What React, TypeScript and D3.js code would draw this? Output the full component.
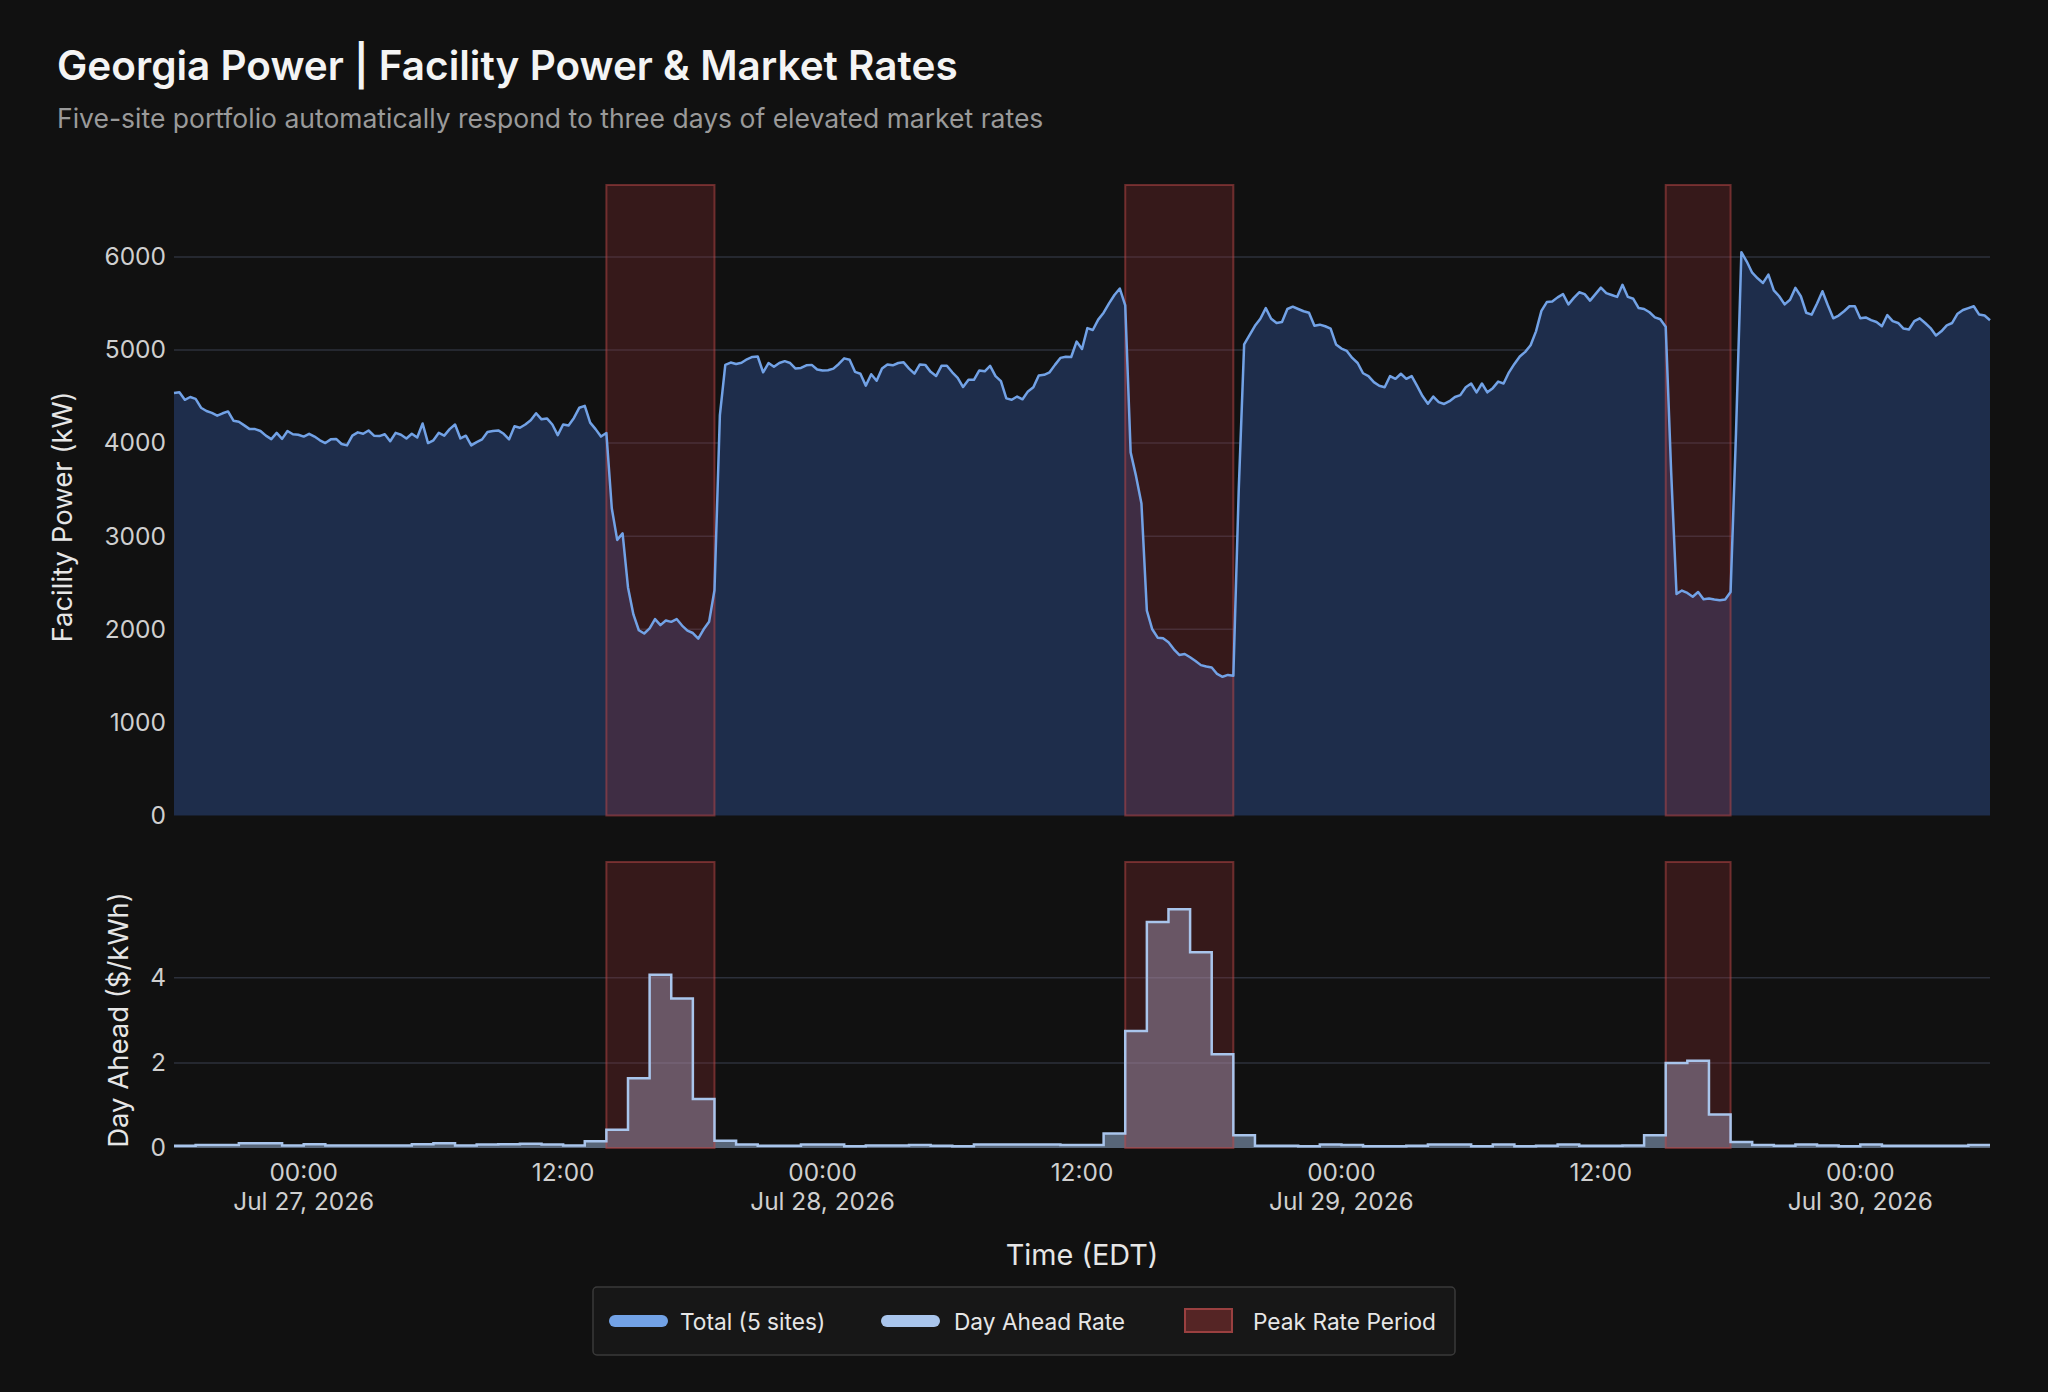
import React, { useEffect, useRef } from 'react';
import * as d3 from 'd3';

// facility power, 15-minute readings starting at powerStart
const powerStart = '2026-07-26T18:00';
const powerStepMin = 15;
const powerKw = [
  4538, 4545, 4465, 4495, 4475, 4380, 4345, 4325, 4294, 4320,
  4340, 4240, 4230, 4190, 4150, 4150, 4130, 4080, 4043, 4110,
  4045, 4130, 4095, 4090, 4070, 4100, 4070, 4030, 4000, 4040,
  4045, 3990, 3975, 4080, 4115, 4100, 4135, 4080, 4075, 4095,
  4020, 4110, 4090, 4050, 4100, 4060, 4210, 4000, 4030, 4110,
  4080, 4150, 4200, 4050, 4079, 3975, 4010, 4040, 4120, 4130,
  4136, 4100, 4040, 4180, 4165, 4200, 4245, 4320, 4255, 4265,
  4200, 4085, 4200, 4190, 4270, 4380, 4400, 4220, 4150, 4070,
  4108, 3300, 2960, 3030, 2450, 2160, 1990, 1955, 2010, 2110,
  2045, 2095, 2080, 2110, 2040, 1985, 1960, 1900, 2000, 2080,
  2420, 4300, 4840, 4865, 4850, 4862, 4900, 4925, 4930, 4760,
  4860, 4820, 4860, 4880, 4860, 4800, 4807, 4835, 4840, 4790,
  4780, 4782, 4800, 4850, 4910, 4896, 4765, 4745, 4617, 4740,
  4670, 4800, 4845, 4835, 4860, 4867, 4800, 4746, 4845, 4840,
  4765, 4720, 4830, 4830, 4760, 4700, 4602, 4680, 4680, 4780,
  4771, 4830, 4720, 4665, 4480, 4465, 4500, 4470, 4555, 4600,
  4725, 4733, 4760, 4840, 4915, 4928, 4925, 5090, 5011, 5235,
  5215, 5326, 5400, 5500, 5590, 5660, 5480, 3900, 3645, 3350,
  2200, 2000, 1910, 1903, 1860, 1785, 1725, 1735, 1700, 1660,
  1615, 1600, 1590, 1520, 1490, 1510, 1500, 3500, 5060, 5160,
  5260, 5335, 5450, 5335, 5290, 5300, 5440, 5465, 5440, 5416,
  5400, 5260, 5272, 5255, 5230, 5060, 5015, 4990, 4915, 4860,
  4750, 4720, 4655, 4615, 4600, 4720, 4690, 4745, 4690, 4720,
  4615, 4505, 4423, 4500, 4440, 4420, 4450, 4495, 4515, 4600,
  4640, 4545, 4640, 4545, 4590, 4660, 4640, 4760, 4850, 4930,
  4980, 5050, 5200, 5420, 5515, 5520, 5565, 5600, 5490, 5560,
  5620, 5600, 5530, 5600, 5670, 5610, 5590, 5570, 5700, 5570,
  5550, 5450, 5440, 5405, 5350, 5330, 5250, 3700, 2380, 2416,
  2390, 2350, 2400, 2323, 2330, 2320, 2312, 2320, 2400, 4100,
  6050, 5950, 5830, 5770, 5720, 5810, 5640, 5577, 5490, 5540,
  5667, 5577, 5400, 5380, 5500, 5631, 5480, 5340, 5370, 5416,
  5470, 5470, 5340, 5350, 5320, 5300, 5255, 5375, 5310, 5290,
  5230, 5220, 5310, 5340, 5290, 5235, 5155, 5200, 5265, 5290,
  5390, 5430, 5450, 5470, 5380, 5370, 5320,
];

// day ahead rate, hourly from rateStart
const rateStart = '2026-07-26T18:00';
const rateUsdKwh = [
  0.05, 0.07, 0.07, 0.11, 0.11, 0.06, 0.09, 0.06, 0.06, 0.06,
  0.06, 0.09, 0.11, 0.06, 0.08, 0.09, 0.10, 0.08, 0.06, 0.16,
  0.43, 1.64, 4.07, 3.51, 1.15, 0.17, 0.08, 0.055, 0.05, 0.08,
  0.08, 0.04, 0.06, 0.06, 0.07, 0.05, 0.04, 0.08, 0.08, 0.08,
  0.085, 0.07, 0.07, 0.34, 2.75, 5.31, 5.61, 4.6, 2.2, 0.3,
  0.055, 0.055, 0.04, 0.08, 0.07, 0.04, 0.04, 0.055, 0.08, 0.08,
  0.04, 0.08, 0.04, 0.055, 0.085, 0.05, 0.05, 0.06, 0.3, 2.0,
  2.05, 0.79, 0.14, 0.07, 0.05, 0.08, 0.06, 0.04, 0.08, 0.05,
  0.055, 0.055, 0.055, 0.07,
];

const peakPeriods = [
  ['2026-07-27T14:00', '2026-07-27T19:00'],
  ['2026-07-28T14:00', '2026-07-28T19:00'],
  ['2026-07-29T15:00', '2026-07-29T18:00'],
];

const xDomain = ['2026-07-26T18:00', '2026-07-30T06:00'];
const powerTicks = [0, 1000, 2000, 3000, 4000, 5000, 6000];
const rateTicks = [0, 2, 4];
const legendLabels = ['Total (5 sites)', 'Day Ahead Rate', 'Peak Rate Period'];

const W = 2048;
const H = 1392;
const FONT = 'Inter, "Noto Sans", sans-serif';
const BG = '#111111';
const GRID = '#2c303b';
const TICK = '#cfcfcf';
const POWER_LINE = '#72a2e6';
const POWER_FILL = '#1e2d4b';
const RATE_LINE = '#a9c5ec';
const RATE_FILL = 'rgba(168,196,236,0.48)';
const BAND_FILL = 'rgba(150,48,50,0.28)';
const BAND_STROKE = 'rgba(190,72,72,0.5)';

const App: React.FC = () => {
  const ref = useRef<SVGSVGElement>(null);

  useEffect(() => {
    document.body.style.margin = '0';
    document.body.style.background = BG;

    const svg = d3.select(ref.current);
    svg.selectAll('*').remove();
    svg.append('rect').attr('width', W).attr('height', H).attr('fill', BG);

    const left = 174;
    const right = 1990;
    const top1 = 185, bot1 = 815.5; // power panel
    const top2 = 862, bot2 = 1148; // rate panel

    const x = d3.scaleTime()
      .domain(xDomain.map(s => new Date(s)))
      .range([left, right]);
    const yP = d3.scaleLinear().domain([0, 6772]).range([bot1, top1]);
    const yR = d3.scaleLinear().domain([0, 6.72]).range([bot2, top2]);

    const t0 = new Date(powerStart).getTime();
    const power = powerKw.map((v, i) => ({ t: new Date(t0 + i * powerStepMin * 60000), v }));
    const r0 = new Date(rateStart).getTime();
    const rate = rateUsdKwh.map((v, i) => ({ t: new Date(r0 + i * 3600000), v }));
    rate.push({ t: new Date(r0 + rateUsdKwh.length * 3600000), v: rateUsdKwh[rateUsdKwh.length - 1] });

    // titles
    svg.append('text').attr('x', 57).attr('y', 80)
      .attr('font-family', FONT).attr('font-size', 40.5).attr('font-weight', 600)
      .attr('fill', '#f4f4f4')
      .text('Georgia Power | Facility Power & Market Rates');
    svg.append('text').attr('x', 57).attr('y', 128)
      .attr('font-family', FONT).attr('font-size', 26.5)
      .attr('fill', '#9a9a9a')
      .text('Five-site portfolio automatically respond to three days of elevated market rates');

    // gridlines
    const grid = svg.append('g');
    powerTicks.filter(d => d > 0).forEach(d => {
      grid.append('line').attr('x1', left).attr('x2', right)
        .attr('y1', yP(d)).attr('y2', yP(d))
        .attr('stroke', GRID).attr('stroke-width', 1.5);
    });
    rateTicks.filter(d => d > 0).forEach(d => {
      grid.append('line').attr('x1', left).attr('x2', right)
        .attr('y1', yR(d)).attr('y2', yR(d))
        .attr('stroke', GRID).attr('stroke-width', 1.5);
    });

    // power area
    const area = d3.area<{ t: Date; v: number }>()
      .x(d => x(d.t)).y0(yP(0)).y1(d => yP(d.v));
    svg.append('path').datum(power).attr('d', area).attr('fill', POWER_FILL);

    // rate area (step)
    const rArea = d3.area<{ t: Date; v: number }>()
      .x(d => x(d.t)).y0(yR(0)).y1(d => yR(d.v)).curve(d3.curveStepAfter);
    svg.append('path').datum(rate).attr('d', rArea).attr('fill', RATE_FILL);

    // peak bands on both panels
    const bands = svg.append('g');
    peakPeriods.forEach(([a, b]) => {
      const x0 = x(new Date(a));
      const x1 = x(new Date(b));
      [[top1, bot1], [top2, bot2]].forEach(([yt, yb]) => {
        bands.append('rect')
          .attr('x', x0).attr('y', yt)
          .attr('width', x1 - x0).attr('height', yb - yt)
          .attr('fill', BAND_FILL)
          .attr('stroke', BAND_STROKE).attr('stroke-width', 2);
      });
    });

    // lines
    const line = d3.line<{ t: Date; v: number }>().x(d => x(d.t)).y(d => yP(d.v));
    svg.append('path').datum(power).attr('d', line)
      .attr('fill', 'none').attr('stroke', POWER_LINE).attr('stroke-width', 2.5)
      .attr('stroke-linejoin', 'round');
    const rLine = d3.line<{ t: Date; v: number }>()
      .x(d => x(d.t)).y(d => yR(d.v)).curve(d3.curveStepAfter);
    svg.append('path').datum(rate).attr('d', rLine)
      .attr('fill', 'none').attr('stroke', RATE_LINE).attr('stroke-width', 2.5);

    // y axes
    const yAxisP = svg.append('g').attr('transform', `translate(${left - 8},0)`)
      .call(d3.axisLeft(yP).tickValues(powerTicks).tickFormat(d3.format('d')).tickSize(0));
    const yAxisR = svg.append('g').attr('transform', `translate(${left - 8},0)`)
      .call(d3.axisLeft(yR).tickValues(rateTicks).tickFormat(d3.format('d')).tickSize(0));
    [yAxisP, yAxisR].forEach(g => {
      g.select('.domain').remove();
      g.selectAll('text').attr('font-family', FONT).attr('font-size', 24.5)
        .attr('fill', TICK).attr('x', 0);
    });

    // x axis ticks
    const xTicks = d3.timeHour.every(12)!.range(x.domain()[0], x.domain()[1]);
    const fmtH = d3.timeFormat('%H:%M');
    const fmtD = d3.timeFormat('%b %-d, %Y');
    const xAxis = svg.append('g');
    xTicks.forEach(d => {
      xAxis.append('text').attr('x', x(d)).attr('y', 1181)
        .attr('text-anchor', 'middle').attr('font-family', FONT)
        .attr('font-size', 24.4).attr('fill', TICK)
        .text(fmtH(d));
      if (d.getHours() === 0) {
        xAxis.append('text').attr('x', x(d)).attr('y', 1210)
          .attr('text-anchor', 'middle').attr('font-family', FONT)
          .attr('font-size', 24.4).attr('fill', TICK)
          .text(fmtD(d));
      }
    });

    // axis titles
    svg.append('text').attr('x', (left + right) / 2).attr('y', 1265)
      .attr('text-anchor', 'middle').attr('font-family', FONT).attr('font-size', 28.8)
      .attr('fill', '#e6e6e6').text('Time (EDT)');
    svg.append('text')
      .attr('transform', 'translate(62,517) rotate(-90)')
      .attr('text-anchor', 'middle').attr('dominant-baseline', 'central')
      .attr('font-family', FONT).attr('font-size', 27.5).attr('fill', '#e6e6e6')
      .text('Facility Power (kW)');
    svg.append('text')
      .attr('transform', 'translate(118,1020) rotate(-90)')
      .attr('text-anchor', 'middle').attr('dominant-baseline', 'central')
      .attr('font-family', FONT).attr('font-size', 27.5).attr('fill', '#e6e6e6')
      .text('Day Ahead ($/kWh)');

    // legend
    const lg = svg.append('g');
    lg.append('rect').attr('x', 593).attr('y', 1287).attr('width', 862).attr('height', 68)
      .attr('rx', 4).attr('fill', '#171717').attr('stroke', '#3a3a3a').attr('stroke-width', 1.5);
    const ly = 1321;
    const swatchX = [609, 881];
    [POWER_LINE, RATE_LINE].forEach((c, i) => {
      lg.append('line').attr('x1', swatchX[i] + 6).attr('x2', swatchX[i] + 53)
        .attr('y1', ly).attr('y2', ly)
        .attr('stroke', c).attr('stroke-width', 12).attr('stroke-linecap', 'round');
    });
    lg.append('rect').attr('x', 1185).attr('y', 1309).attr('width', 47).attr('height', 23)
      .attr('fill', '#552525').attr('stroke', '#9a4040').attr('stroke-width', 2);
    const textX = [680, 954, 1253];
    legendLabels.forEach((s, i) => {
      lg.append('text').attr('x', textX[i]).attr('y', ly)
        .attr('dominant-baseline', 'central').attr('font-family', FONT)
        .attr('font-size', 22.7).attr('fill', '#e6e6e6').text(s);
    });
  }, []);

  return <svg ref={ref} width={W} height={H} style={{ display: 'block' }} />;
};

export default App;
